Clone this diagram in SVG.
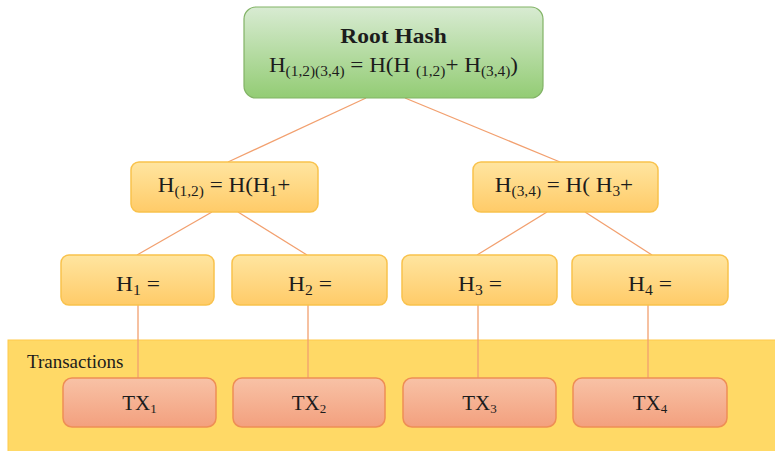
<svg xmlns="http://www.w3.org/2000/svg" width="775" height="451" viewBox="0 0 775 451">
  <defs>
    <linearGradient id="gGreen" x1="0" y1="0" x2="0" y2="1">
      <stop offset="0" stop-color="#d8ebd2"/>
      <stop offset="1" stop-color="#93cc74"/>
    </linearGradient>
    <linearGradient id="gYellow" x1="0" y1="0" x2="0" y2="1">
      <stop offset="0" stop-color="#ffe5a0"/>
      <stop offset="1" stop-color="#ffcb68"/>
    </linearGradient>
    <linearGradient id="gSalmon" x1="0" y1="0" x2="0" y2="1">
      <stop offset="0" stop-color="#f8c2a6"/>
      <stop offset="1" stop-color="#f3a07e"/>
    </linearGradient>
  </defs>
  <style>
    .root { fill: url(#gGreen); stroke: #82b366; stroke-width: 1.2; }
    .hash { fill: url(#gYellow); stroke: #f9c24c; stroke-width: 1.5; }
    .tx { fill: url(#gSalmon); stroke: #ee8e55; stroke-width: 1.5; }
    .band { fill: #ffd966; stroke: #ffc94a; stroke-width: 1; }
    .edge { stroke: #f2a06f; stroke-width: 1.3; fill: none; }
    text { font-family: "Liberation Serif", "Times New Roman", serif; fill: #1c1c1c; text-anchor: middle; }
    .t21 { font-size: 21px; }
    .t20 { font-size: 21px; }
    .bold { font-weight: bold; }
    .sub { font-size: 14px; }
    .subs { font-size: 13px; }
    .band-label { font-size: 19px; text-anchor: start; }
  </style>

  <!-- transactions band -->
  <g id="transactions">
    <rect class="band" x="8" y="340" width="780" height="125"/>
    <text class="band-label" x="27" y="368">Transactions</text>
  </g>

  <!-- connectors -->
  <g id="connectors">
    <line class="edge" x1="366" y1="98" x2="228" y2="162"/>
    <line class="edge" x1="405" y1="98" x2="560" y2="162"/>
    <line class="edge" x1="212" y1="212" x2="137" y2="255"/>
    <line class="edge" x1="238" y1="212" x2="307" y2="255"/>
    <line class="edge" x1="547" y1="212" x2="477" y2="255"/>
    <line class="edge" x1="585" y1="212" x2="652" y2="255"/>
    <line class="edge" x1="138" y1="305" x2="138" y2="378"/>
    <line class="edge" x1="308" y1="305" x2="308" y2="378"/>
    <line class="edge" x1="478" y1="305" x2="478" y2="378"/>
    <line class="edge" x1="648" y1="305" x2="648" y2="378"/>
  </g>

  <!-- root hash -->
  <g id="root">
    <rect class="root" x="244" y="7" width="299" height="91" rx="12"/>
    <text class="t21 bold" transform="translate(393.5,43) scale(1.12,1)">Root Hash</text>
    <text class="t21" transform="translate(393.5,72) scale(1.1,1)">H<tspan class="sub" dy="4">(1,2)(3,4)</tspan><tspan dy="-4"> = H(H </tspan><tspan class="sub" dy="4">(1,2)</tspan><tspan dy="-4">+ H</tspan><tspan class="sub" dy="4">(3,4)</tspan><tspan dy="-4">)</tspan></text>
  </g>

  <!-- intermediate hashes -->
  <g id="h12">
    <rect class="hash" x="131" y="162" width="187" height="50" rx="8"/>
    <text class="t20" transform="translate(224,192) scale(1.1,1)">H<tspan class="sub" dy="4">(1,2)</tspan><tspan dy="-4"> = H(H</tspan><tspan class="sub" dy="4">1</tspan><tspan dy="-4">+</tspan></text>
  </g>
  <g id="h34">
    <rect class="hash" x="473" y="162" width="185" height="50" rx="8"/>
    <text class="t20" transform="translate(564,192) scale(1.1,1)">H<tspan class="sub" dy="4">(3,4)</tspan><tspan dy="-4"> = H( H</tspan><tspan class="sub" dy="4">3</tspan><tspan dy="-4">+</tspan></text>
  </g>

  <!-- leaf hashes -->
  <g id="h1">
    <rect class="hash" x="61" y="255" width="153" height="50" rx="8"/>
    <text class="t20" transform="translate(138,291) scale(1.12,1)">H<tspan class="sub" dy="4">1</tspan><tspan dy="-4"> =</tspan></text>
  </g>
  <g id="h2">
    <rect class="hash" x="232" y="255" width="155" height="50" rx="8"/>
    <text class="t20" transform="translate(310,291) scale(1.12,1)">H<tspan class="sub" dy="4">2</tspan><tspan dy="-4"> =</tspan></text>
  </g>
  <g id="h3">
    <rect class="hash" x="402" y="255" width="155" height="50" rx="8"/>
    <text class="t20" transform="translate(480,291) scale(1.12,1)">H<tspan class="sub" dy="4">3</tspan><tspan dy="-4"> =</tspan></text>
  </g>
  <g id="h4">
    <rect class="hash" x="572" y="255" width="156" height="50" rx="8"/>
    <text class="t20" transform="translate(650,291) scale(1.12,1)">H<tspan class="sub" dy="4">4</tspan><tspan dy="-4"> =</tspan></text>
  </g>

  <!-- transactions -->
  <g id="tx1">
    <rect class="tx" x="63" y="378" width="153" height="49" rx="9"/>
    <text class="t20" x="139.5" y="410">TX<tspan class="subs" dy="3">1</tspan></text>
  </g>
  <g id="tx2">
    <rect class="tx" x="233" y="378" width="152" height="49" rx="9"/>
    <text class="t20" x="309" y="410">TX<tspan class="subs" dy="3">2</tspan></text>
  </g>
  <g id="tx3">
    <rect class="tx" x="403" y="378" width="153" height="49" rx="9"/>
    <text class="t20" x="479.5" y="410">TX<tspan class="subs" dy="3">3</tspan></text>
  </g>
  <g id="tx4">
    <rect class="tx" x="573" y="378" width="154" height="49" rx="9"/>
    <text class="t20" x="650" y="410">TX<tspan class="subs" dy="3">4</tspan></text>
  </g>
</svg>
